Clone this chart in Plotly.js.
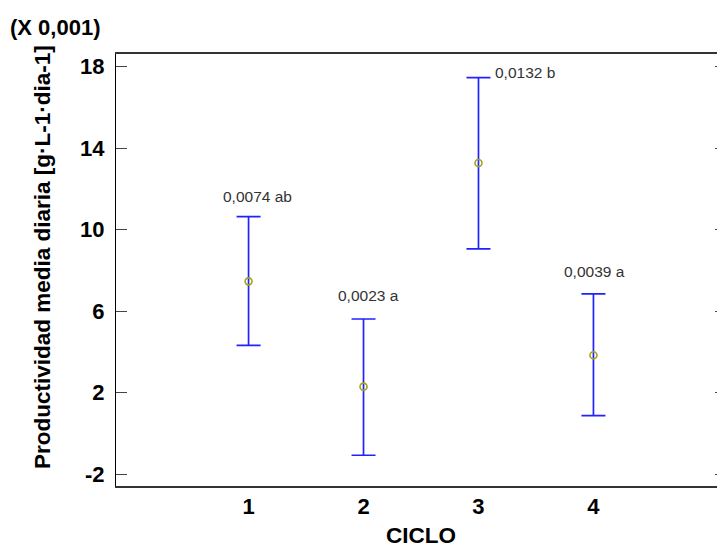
<!DOCTYPE html>
<html>
<head>
<meta charset="utf-8">
<script src="https://cdn.plot.ly/plotly-3.0.1.min.js"></script>
<style>
html, body { margin:0; padding:0; overflow:hidden; background:#fff; width:717px; height:548px; }
#chart { width:726px; height:548px; }
</style>
</head>
<body>
<div id="chart"></div>
<script>
// Data (values in units of 0.001 g·L-1·dia-1)
var ciclo = [1, 2, 3, 4];
var ciclo_labels = ['1', '2', '3', '4'];
var media = [7.46, 2.29, 13.27, 3.83];
var upper = [10.64, 5.61, 17.46, 6.84];
var lower = [4.32, -1.08, 9.05, 0.87];
var etiquetas = ['0,0074 ab', '0,0023 a', '0,0132 b', '0,0039 a'];
var y_ticks = [-2, 2, 6, 10, 14, 18];
var y_tick_labels = ['-2', '2', '6', '10', '14', '18'];

// label placement (style only)
var placement = [
  {xanchor:'center', xshift:9, yshift:20},
  {xanchor:'center', xshift:5, yshift:24},
  {xanchor:'left', xshift:15, yshift:5},
  {xanchor:'center', xshift:1, yshift:22}
];

var errPlus = upper.map(function(u, i){ return u - media[i]; });
var errMinus = lower.map(function(l, i){ return media[i] - l; });

var trace = {
  x: ciclo,
  y: media,
  type: 'scatter',
  mode: 'markers',
  marker: {symbol: 'circle-open', size: 7, color: '#a3a31a', line: {width: 1.6, color: '#a3a31a'}},
  error_y: {
    type: 'data', symmetric: false,
    array: errPlus, arrayminus: errMinus,
    color: '#2222ff', thickness: 1.7, width: 12
  },
  hoverinfo: 'x+y',
  showlegend: false
};

var fontFam = 'Arial, "Liberation Sans", sans-serif';

var annotations = etiquetas.map(function(t, i){
  return {
    x: ciclo[i], y: upper[i], xref: 'x', yref: 'y',
    text: t, showarrow: false,
    xanchor: placement[i].xanchor, yanchor: 'middle',
    xshift: placement[i].xshift, yshift: placement[i].yshift,
    font: {family: fontFam, size: 15.5, color: '#333333'}
  };
});
annotations.push({
  x: (42 - 116) / 610, y: 0.5 + 13/432, xref: 'paper', yref: 'paper',
  text: '<b>Productividad media diaria [g·L-1·dia-1]</b>',
  textangle: -90, showarrow: false, xanchor: 'center', yanchor: 'middle',
  font: {family: fontFam, size: 22.5, color: '#000'}
});
annotations.push({
  x: (8 - 116) / 610, y: 1 + (54 - 27) / 432, xref: 'paper', yref: 'paper',
  text: '<b>(X 0,001)</b>', showarrow: false, xanchor: 'left', yanchor: 'middle',
  font: {family: fontFam, size: 22, color: '#000'}
});

var layout = {
  width: 726, height: 548,
  margin: {l: 116, r: 0, t: 54, b: 62, pad: 0},
  paper_bgcolor: '#fff', plot_bgcolor: '#fff',
  font: {family: fontFam},
  xaxis: {
    range: [-0.153, 5.153],
    tickmode: 'array', tickvals: ciclo, ticktext: ciclo_labels,
    ticks: '', showgrid: false, zeroline: false,
    showline: true, linecolor: '#333', linewidth: 2, mirror: true,
    tickfont: {family: fontFam, size: 22, color: '#000', weight: 'bold'},
    title: {text: '<b>CICLO</b>', font: {family: fontFam, size: 22.5, color: '#000'}, standoff: 10}
  },
  yaxis: {
    range: [-2.589, 18.623],
    tickmode: 'array', tickvals: y_ticks, ticktext: y_tick_labels,
    ticks: 'inside', ticklen: 11, tickwidth: 1, tickcolor: '#444',
    showgrid: false, zeroline: false,
    showline: true, linecolor: '#000', linewidth: 1, mirror: 'ticks',
    tickfont: {family: fontFam, size: 22, color: '#000', weight: 'bold'},
    ticklabelstandoff: 6
  },
  annotations: annotations
};

Plotly.newPlot('chart', [trace], layout, {displayModeBar: false, staticPlot: true});
</script>
</body>
</html>
